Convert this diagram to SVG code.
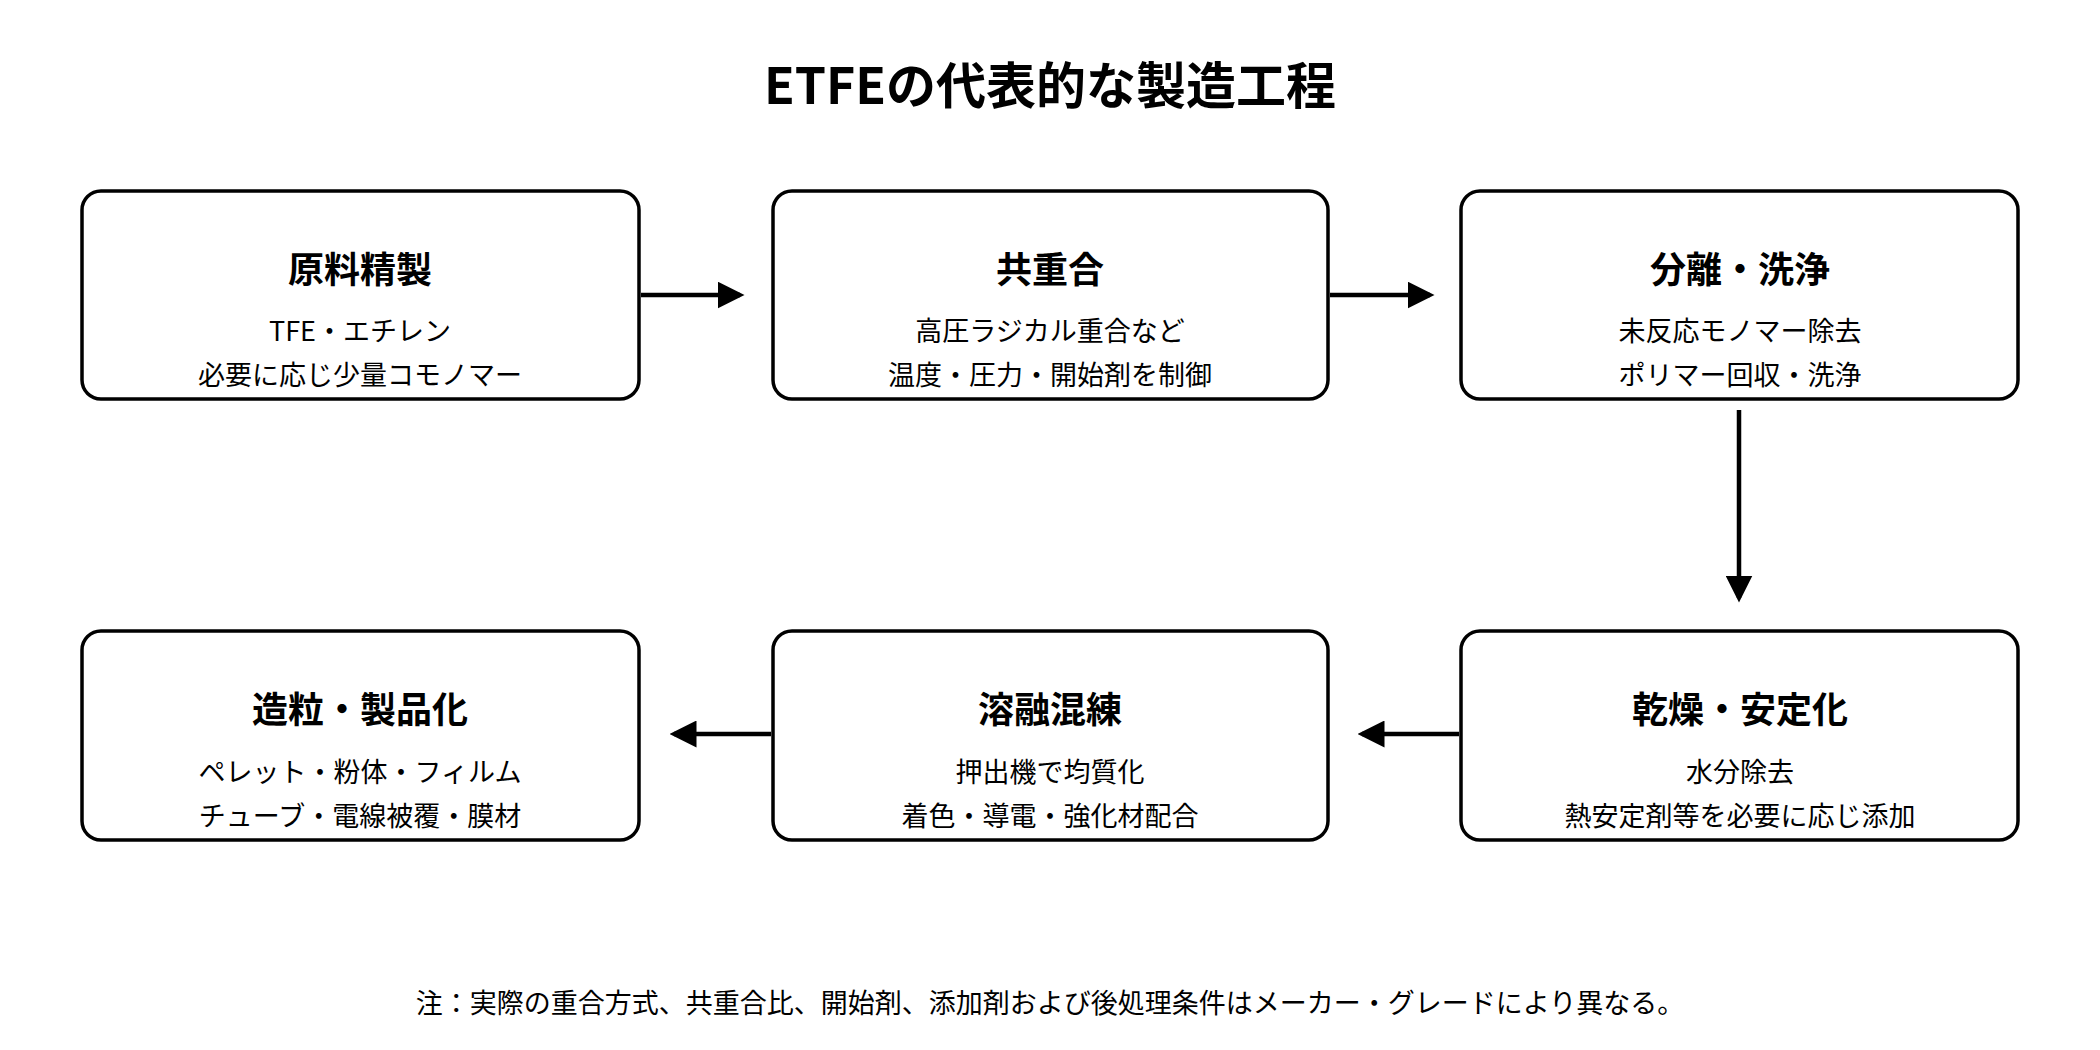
<svg xmlns="http://www.w3.org/2000/svg" width="2100" height="1050" viewBox="0 0 2100 1050">
<style>
text{font-family:"Noto Sans CJK JP","Noto Sans",sans-serif;fill:#000;text-anchor:middle}
.box{fill:#fff;stroke:#000;stroke-width:3.5}
.h{font-size:36px;font-weight:bold}
.b{font-size:27px}
.c{stroke:#000;stroke-width:4.5;fill:none;marker-end:url(#a)}
</style>
<defs><marker id="a" markerWidth="6" markerHeight="6" refX="5" refY="3" orient="auto" markerUnits="strokeWidth"><path d="M0,0L6,3L0,6z" fill="#000"/></marker></defs>
<rect width="2100" height="1050" fill="#fff"/>
<text x="1050" y="104" style="font-size:50px;font-weight:bold">ETFEの代表的な製造工程</text>
<g id="n1"><rect class="box" x="82" y="191" width="557" height="208" rx="19"/><text class="h" x="360" y="283">原料精製</text><text class="b" x="360" y="341">TFE・エチレン</text><text class="b" x="360" y="385">必要に応じ少量コモノマー</text></g>
<g id="n2"><rect class="box" x="773" y="191" width="555" height="208" rx="19"/><text class="h" x="1050" y="283">共重合</text><text class="b" x="1050" y="341">高圧ラジカル重合など</text><text class="b" x="1050" y="385">温度・圧力・開始剤を制御</text></g>
<g id="n3"><rect class="box" x="1461" y="191" width="557" height="208" rx="19"/><text class="h" x="1740" y="283">分離・洗浄</text><text class="b" x="1740" y="341">未反応モノマー除去</text><text class="b" x="1740" y="385">ポリマー回収・洗浄</text></g>
<g id="n4"><rect class="box" x="1461" y="631" width="557" height="209" rx="19"/><text class="h" x="1740" y="723">乾燥・安定化</text><text class="b" x="1740" y="782">水分除去</text><text class="b" x="1740" y="826">熱安定剤等を必要に応じ添加</text></g>
<g id="n5"><rect class="box" x="773" y="631" width="555" height="209" rx="19"/><text class="h" x="1050" y="723">溶融混練</text><text class="b" x="1050" y="782">押出機で均質化</text><text class="b" x="1050" y="826">着色・導電・強化材配合</text></g>
<g id="n6"><rect class="box" x="82" y="631" width="557" height="209" rx="19"/><text class="h" x="360" y="723">造粒・製品化</text><text class="b" x="360" y="782">ペレット・粉体・フィルム</text><text class="b" x="360" y="826">チューブ・電線被覆・膜材</text></g>
<g id="connectors">
<line class="c" x1="641" y1="295" x2="740" y2="295"/>
<line class="c" x1="1330" y1="295" x2="1430" y2="295"/>
<line class="c" x1="1739" y1="410" x2="1739" y2="598"/>
<line class="c" x1="1459" y1="734" x2="1362" y2="734"/>
<line class="c" x1="771" y1="734" x2="674" y2="734"/>
</g>
<text x="1050" y="1013" style="font-size:27px">注：実際の重合方式、共重合比、開始剤、添加剤および後処理条件はメーカー・グレードにより異なる。</text>
</svg>
